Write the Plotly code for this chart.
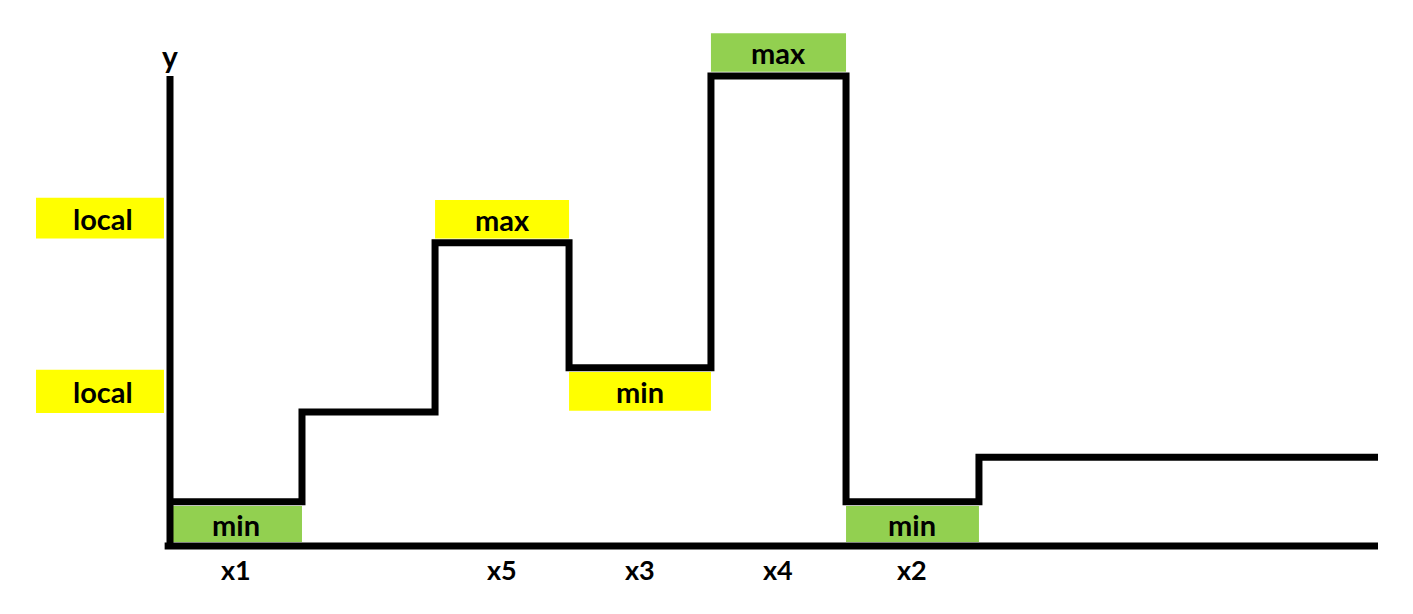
import plotly.graph_objects as go

# ---- data (abstract units) ----
x_edges = [0.0, 0.985, 1.978, 2.978, 4.037, 5.045, 6.037, 9.015]
y_levels = [0.94, 2.85, 6.45, 3.79, 10.0, 0.94, 1.89]
x_tick_labels = ["x1", None, "x5", "x3", "x4", "x2", None]
y_axis_label = "y"
y_axis_top = 10.0
x_axis_end = 9.015

# extrema annotations: (segment index, text, colour, above/below)
extrema = [
    (0, "min", "#92D050", "below"),
    (2, "max", "#FFFF00", "above"),
    (3, "min", "#FFFF00", "below"),
    (4, "max", "#92D050", "above"),
    (5, "min", "#92D050", "below"),
]
local_segments = [2, 3]  # "local" labels on left for these levels
local_text = "local"

FONT = "Lato"
BLACK = "#000000"
LW = 7

fig = go.Figure()

# axes lines
fig.add_trace(go.Scatter(x=[0, 0], y=[y_axis_top, 0], mode="lines",
                         line=dict(color=BLACK, width=LW), hoverinfo="skip"))
fig.add_trace(go.Scatter(x=[-0.04, x_axis_end], y=[0, 0], mode="lines",
                         line=dict(color=BLACK, width=LW), hoverinfo="skip"))

# step line
step_x = x_edges
step_y = y_levels + [y_levels[-1]]
fig.add_trace(go.Scatter(x=step_x, y=step_y, mode="lines", line_shape="hv",
                         line=dict(color=BLACK, width=LW), hoverinfo="skip"))

shapes = []
annotations = []
GAP = 0.09
BOX_H = 0.82
TXT = 29
for seg, txt, col, pos in extrema:
    x0, x1 = x_edges[seg], x_edges[seg + 1]
    lvl = y_levels[seg]
    if pos == "above":
        y0, y1 = lvl + GAP, lvl + GAP + BOX_H
    else:
        y1 = lvl - GAP
        y0 = max(lvl - GAP - BOX_H, 0.085)
    shapes.append(dict(type="rect", xref="x", yref="y", x0=x0, x1=x1,
                       y0=y0, y1=y1, fillcolor=col, line=dict(width=0), layer="below"))
    annotations.append(dict(x=(x0 + x1) / 2, y=(y0 + y1) / 2, text=f"<b>{txt}</b>",
                            showarrow=False, font=dict(family=FONT, size=TXT, color=BLACK)))

for seg in local_segments:
    lvl = y_levels[seg]
    above = lvl > y_levels[seg + 1]
    if above:
        y0, y1 = lvl + GAP, lvl + GAP + BOX_H + 0.05
    else:
        y1 = lvl - GAP + 0.05
        y0 = lvl - GAP - BOX_H - 0.05
    shapes.append(dict(type="rect", xref="x", yref="y", x0=-1.0, x1=-0.045,
                       y0=y0, y1=y1, fillcolor="#FFFF00", line=dict(width=0), layer="below"))
    annotations.append(dict(x=-0.5, y=(y0 + y1) / 2, text=f"<b>{local_text}</b>",
                            showarrow=False, font=dict(family=FONT, size=TXT, color=BLACK)))

for i, lab in enumerate(x_tick_labels):
    if lab:
        annotations.append(dict(x=(x_edges[i] + x_edges[i + 1]) / 2, y=-0.49,
                                text=f"<b>{lab}</b>", showarrow=False,
                                font=dict(family=FONT, size=27, color=BLACK)))

annotations.append(dict(x=0, y=10.42, text=f"<b>{y_axis_label}</b>", showarrow=False,
                        font=dict(family=FONT, size=30, color=BLACK)))

W, H = 1413, 614
OFF = 8  # page body margin
px_x, px_y = 134.0, 47.0
x0_px, y0_px = 170 - OFF, 546 - OFF
fig.update_layout(
    width=W, height=H,
    margin=dict(l=0, r=0, t=0, b=0),
    paper_bgcolor="white", plot_bgcolor="white",
    showlegend=False,
    shapes=shapes, annotations=annotations,
    xaxis=dict(range=[-x0_px / px_x, (W - x0_px) / px_x], visible=False, fixedrange=True),
    yaxis=dict(range=[-(H - y0_px) / px_y, y0_px / px_y], visible=False, fixedrange=True),
)

fig.write_html("out.html")
